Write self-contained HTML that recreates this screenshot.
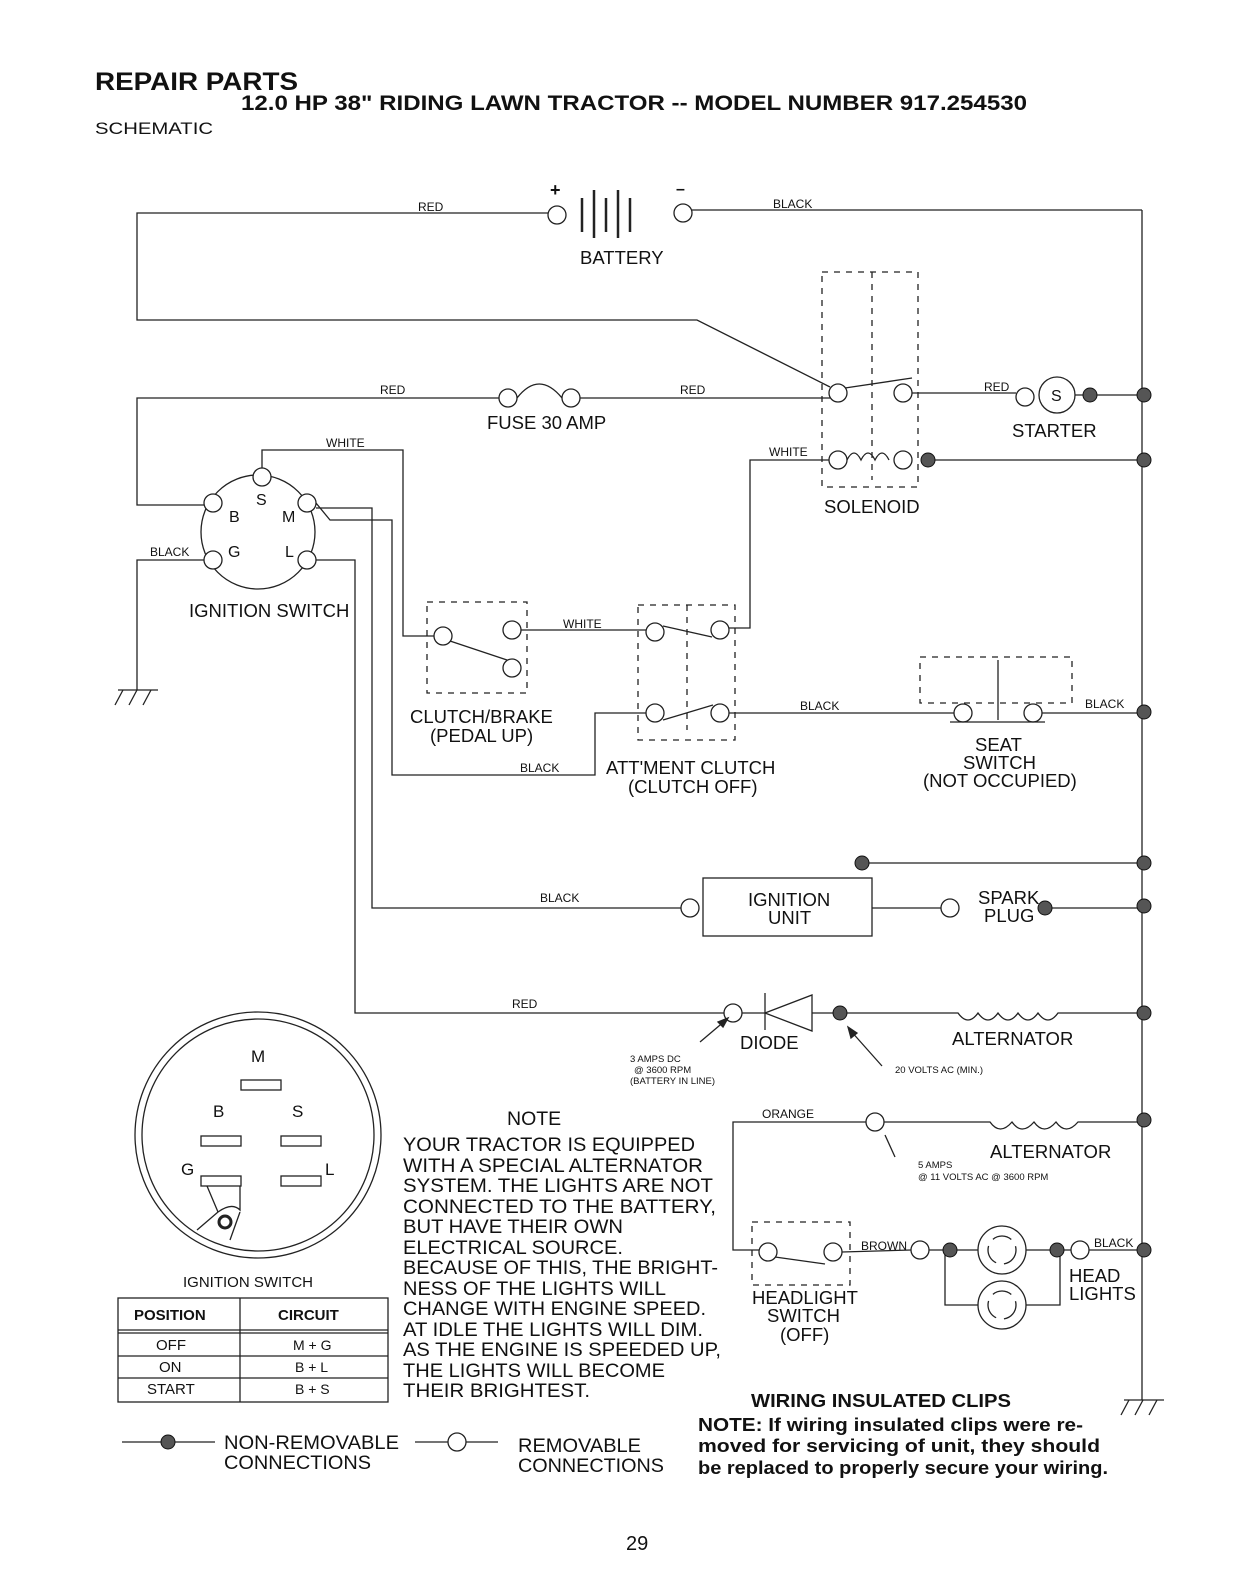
<!DOCTYPE html>
<html><head><meta charset="utf-8"><style>
html,body{margin:0;padding:0;background:#fff}
svg{display:block}
text{font-family:"Liberation Sans",sans-serif;fill:#111}
.l{font-size:18.5px}
.s{font-size:12px}
.t{font-size:9.5px}
</style></head><body>
<svg width="1244" height="1584" viewBox="0 0 1244 1584" xmlns="http://www.w3.org/2000/svg">
<g stroke="#222" stroke-width="1.3" fill="none">
<polyline points="548,213 137,213 137,320 697,320 830,387"/>
<line x1="692" y1="210" x2="1142" y2="210"/>
<line x1="1142" y1="210" x2="1142" y2="1400"/>
<circle cx="557" cy="215" r="9"/><circle cx="683" cy="213" r="9"/>
<line x1="582" y1="198" x2="582" y2="232" stroke-width="2.5"/>
<line x1="594" y1="190" x2="594" y2="238" stroke-width="2.5"/>
<line x1="606" y1="198" x2="606" y2="232" stroke-width="2.5"/>
<line x1="618" y1="190" x2="618" y2="238" stroke-width="2.5"/>
<line x1="630" y1="198" x2="630" y2="232" stroke-width="2.5"/>
<polyline points="499,398 137,398 137,505 205,505"/>
<circle cx="508" cy="398" r="9"/><circle cx="571" cy="398" r="9"/>
<path d="M517,398 Q539,370 562,398"/>
<line x1="580" y1="398" x2="830" y2="398"/>
<rect x="822" y="272" width="96" height="215" stroke-dasharray="6,6"/>
<line x1="872" y1="272" x2="872" y2="480" stroke-dasharray="6,6"/>
<circle cx="838" cy="393" r="9"/><circle cx="903" cy="393" r="9"/>
<line x1="845" y1="388" x2="912" y2="378"/>
<circle cx="838" cy="460" r="9"/><circle cx="903" cy="460" r="9"/>
<path d="M847,460 q7,-14 14,0 q7,-14 14,0 q7,-14 14,0"/>
<line x1="928" y1="460" x2="1142" y2="460"/>
<line x1="912" y1="393" x2="1016" y2="393"/>
<circle cx="1025" cy="397" r="9"/><circle cx="1057" cy="395" r="18"/>
<line x1="1075" y1="395" x2="1142" y2="395"/>
<polyline points="829,460 750,460 750,628 729,628"/>
<circle cx="258" cy="532" r="57"/>
<circle cx="262" cy="477" r="9" fill="#fff"/><circle cx="213" cy="503" r="9" fill="#fff"/>
<circle cx="307" cy="503" r="9" fill="#fff"/><circle cx="213" cy="560" r="9" fill="#fff"/>
<circle cx="307" cy="560" r="9" fill="#fff"/>
<polyline points="262,468 262,450 403,450 403,636 434,636"/>
<polyline points="204,560 137,560 137,690"/>
<polyline points="316,503 330,520 392,520 392,775 595,775 595,713 646,713"/>
<polyline points="316,508 372,508 372,908 681,908"/>
<polyline points="316,560 355,560 355,1013 724,1013"/>
<rect x="427" y="602" width="100" height="91" stroke-dasharray="6,6"/>
<circle cx="443" cy="636" r="9"/><circle cx="512" cy="630" r="9"/><circle cx="512" cy="668" r="9"/>
<line x1="450" y1="641" x2="507" y2="660"/>
<line x1="521" y1="630" x2="646" y2="630"/>
<rect x="638" y="605" width="97" height="135" stroke-dasharray="6,6"/>
<line x1="687" y1="605" x2="687" y2="730" stroke-dasharray="6,6"/>
<circle cx="655" cy="632" r="9"/><circle cx="720" cy="630" r="9"/>
<line x1="663" y1="626" x2="712" y2="637"/>
<circle cx="655" cy="713" r="9"/><circle cx="720" cy="713" r="9"/>
<line x1="663" y1="720" x2="713" y2="705"/>
<line x1="729" y1="713" x2="954" y2="713"/>
<rect x="920" y="657" width="152" height="46" stroke-dasharray="6,6"/>
<circle cx="963" cy="713" r="9"/><circle cx="1033" cy="713" r="9"/>
<line x1="998" y1="660" x2="998" y2="720"/>
<line x1="950" y1="722" x2="1045" y2="722"/>
<line x1="1042" y1="713" x2="1142" y2="713"/>
<rect x="703" y="878" width="169" height="58"/>
<circle cx="690" cy="908" r="9"/>
<line x1="872" y1="908" x2="941" y2="908"/><circle cx="950" cy="908" r="9"/>
<line x1="862" y1="863" x2="1142" y2="863"/>
<line x1="1045" y1="908" x2="1142" y2="908"/>
<circle cx="733" cy="1013" r="9"/>
<line x1="742" y1="1013" x2="765" y2="1013"/>
<line x1="765" y1="993" x2="765" y2="1030"/>
<polygon points="765,1013 812,995 812,1031"/>
<line x1="812" y1="1013" x2="840" y2="1013"/>
<path d="M840,1013 L958,1013 q10,14 20,0 q10,14 20,0 q10,14 20,0 q10,14 20,0 q10,14 20,0 L1142,1013"/>
<line x1="700" y1="1042" x2="726" y2="1020"/>
<polygon points="728,1018 718,1022 723,1027" fill="#222"/>
<line x1="882" y1="1066" x2="850" y2="1030"/>
<polygon points="848,1027 851,1038 857,1033" fill="#222"/>
<polyline points="866,1122 733,1122 733,1250 759,1250"/>
<circle cx="875" cy="1122" r="9"/>
<path d="M884,1122 L990,1122 q10,14 22,0 q10,14 22,0 q10,14 22,0 q10,14 22,0 L1142,1122"/>
<line x1="895" y1="1157" x2="885" y2="1135"/>
<rect x="752" y="1222" width="98" height="63" stroke-dasharray="6,6"/>
<circle cx="768" cy="1252" r="9"/><circle cx="833" cy="1252" r="9"/>
<line x1="775" y1="1257" x2="825" y2="1264"/>
<line x1="842" y1="1252" x2="911" y2="1250"/>
<circle cx="920" cy="1250" r="9"/>
<line x1="929" y1="1250" x2="978" y2="1250"/>
<circle cx="1002" cy="1250" r="24"/><circle cx="1002" cy="1305" r="24"/>
<circle cx="1002" cy="1250" r="14" stroke-dasharray="20,8"/>
<circle cx="1002" cy="1305" r="14" stroke-dasharray="20,8"/>
<polyline points="945,1250 945,1305 978,1305"/>
<polyline points="1026,1305 1060,1305 1060,1250"/>
<line x1="1026" y1="1250" x2="1071" y2="1250"/>
<circle cx="1080" cy="1250" r="9"/>
<line x1="1089" y1="1250" x2="1142" y2="1250"/>
<line x1="118" y1="690" x2="158" y2="690"/>
<line x1="123" y1="690" x2="115" y2="705"/><line x1="137" y1="690" x2="129" y2="705"/><line x1="151" y1="690" x2="143" y2="705"/>
<line x1="1124" y1="1400" x2="1164" y2="1400"/>
<line x1="1129" y1="1400" x2="1121" y2="1415"/><line x1="1143" y1="1400" x2="1135" y2="1415"/><line x1="1157" y1="1400" x2="1149" y2="1415"/>
<circle cx="258" cy="1135" r="123"/><circle cx="258" cy="1135" r="116"/>
<rect x="241" y="1080" width="40" height="10"/>
<rect x="201" y="1136" width="40" height="10"/><rect x="281" y="1136" width="40" height="10"/>
<rect x="201" y="1176" width="40" height="10"/><rect x="281" y="1176" width="40" height="10"/>
<path d="M197,1230 L218,1212 Q232,1202 240,1210 L240,1186 M240,1212 L230,1240"/>
<path d="M207,1186 L218,1212"/>
<circle cx="225" cy="1222" r="6" stroke-width="3"/>
<rect x="118" y="1298" width="270" height="104"/>
<line x1="118" y1="1330" x2="388" y2="1330"/><line x1="118" y1="1333" x2="388" y2="1333"/>
<line x1="118" y1="1356" x2="388" y2="1356"/><line x1="118" y1="1378" x2="388" y2="1378"/>
<line x1="240" y1="1298" x2="240" y2="1402"/>
<line x1="122" y1="1442" x2="215" y2="1442"/>
<line x1="415" y1="1442" x2="498" y2="1442"/>
<circle cx="457" cy="1442" r="9" fill="#fff"/>
</g>
<g fill="#555" stroke="#111" stroke-width="1">
<circle cx="1090" cy="395" r="7"/><circle cx="1144" cy="395" r="7"/>
<circle cx="928" cy="460" r="7"/><circle cx="1144" cy="460" r="7"/>
<circle cx="1144" cy="712" r="7"/><circle cx="862" cy="863" r="7"/>
<circle cx="1144" cy="863" r="7"/><circle cx="1045" cy="908" r="7"/>
<circle cx="1144" cy="906" r="7"/><circle cx="840" cy="1013" r="7"/>
<circle cx="1144" cy="1013" r="7"/><circle cx="1144" cy="1120" r="7"/>
<circle cx="950" cy="1250" r="7"/><circle cx="1057" cy="1250" r="7"/>
<circle cx="1144" cy="1250" r="7"/><circle cx="168" cy="1442" r="7"/>
</g>
<text x="95" y="90" font-size="25" font-weight="bold" textLength="203" lengthAdjust="spacingAndGlyphs">REPAIR PARTS</text>
<text x="241" y="110" font-size="21" font-weight="bold" textLength="786" lengthAdjust="spacingAndGlyphs">12.0 HP 38" RIDING LAWN TRACTOR -- MODEL NUMBER 917.254530</text>
<text x="95" y="134" font-size="17" textLength="118" lengthAdjust="spacingAndGlyphs">SCHEMATIC</text>
<text x="550" y="196" font-size="18" font-weight="bold">+</text>
<text x="676" y="194" font-size="16" font-weight="bold">–</text>
<text class="s" x="418" y="211">RED</text>
<text class="s" x="773" y="208">BLACK</text>
<text class="l" x="580" y="264">BATTERY</text>
<text class="s" x="380" y="394">RED</text>
<text class="s" x="680" y="394">RED</text>
<text class="l" x="487" y="429">FUSE 30 AMP</text>
<text class="s" x="984" y="391">RED</text>
<text x="1051" y="401" font-size="16">S</text>
<text class="l" x="1012" y="437">STARTER</text>
<text class="s" x="769" y="456">WHITE</text>
<text class="l" x="824" y="513">SOLENOID</text>
<text class="s" x="326" y="447">WHITE</text>
<text x="256" y="505" font-size="16">S</text>
<text x="229" y="522" font-size="16">B</text>
<text x="282" y="522" font-size="16">M</text>
<text x="228" y="557" font-size="16">G</text>
<text x="285" y="557" font-size="16">L</text>
<text class="s" x="150" y="556">BLACK</text>
<text class="l" x="189" y="617">IGNITION SWITCH</text>
<text class="s" x="563" y="628">WHITE</text>
<text class="l" x="410" y="723">CLUTCH/BRAKE</text>
<text class="l" x="430" y="742">(PEDAL UP)</text>
<text class="s" x="800" y="710">BLACK</text>
<text class="s" x="1085" y="708">BLACK</text>
<text class="l" x="975" y="751">SEAT</text>
<text class="l" x="963" y="769">SWITCH</text>
<text class="l" x="923" y="787">(NOT OCCUPIED)</text>
<text class="s" x="520" y="772">BLACK</text>
<text class="l" x="606" y="774">ATT'MENT CLUTCH</text>
<text class="l" x="628" y="793">(CLUTCH OFF)</text>
<text class="s" x="540" y="902">BLACK</text>
<text class="l" x="748" y="906">IGNITION</text>
<text class="l" x="768" y="924">UNIT</text>
<text class="l" x="978" y="904">SPARK</text>
<text class="l" x="984" y="922">PLUG</text>
<text class="s" x="512" y="1008">RED</text>
<text class="l" x="740" y="1049">DIODE</text>
<text class="l" x="952" y="1045">ALTERNATOR</text>
<text class="t" x="630" y="1062">3 AMPS DC</text>
<text class="t" x="634" y="1073">@ 3600 RPM</text>
<text class="t" x="630" y="1084">(BATTERY IN LINE)</text>
<text class="t" x="895" y="1073">20 VOLTS AC (MIN.)</text>
<text class="s" x="762" y="1118">ORANGE</text>
<text class="l" x="990" y="1158">ALTERNATOR</text>
<text class="t" x="918" y="1168">5 AMPS</text>
<text class="t" x="918" y="1180">@ 11 VOLTS AC @ 3600 RPM</text>
<text class="s" x="861" y="1250">BROWN</text>
<text class="s" x="1094" y="1247">BLACK</text>
<text class="l" x="1069" y="1282">HEAD</text>
<text class="l" x="1069" y="1300">LIGHTS</text>
<text class="l" x="752" y="1304">HEADLIGHT</text>
<text class="l" x="767" y="1322">SWITCH</text>
<text class="l" x="780" y="1341">(OFF)</text>
<text x="251" y="1062" font-size="17">M</text>
<text x="213" y="1117" font-size="17">B</text>
<text x="292" y="1117" font-size="17">S</text>
<text x="181" y="1175" font-size="17">G</text>
<text x="325" y="1175" font-size="17">L</text>
<text x="183" y="1287" font-size="15">IGNITION SWITCH</text>
<text x="134" y="1320" font-size="15" font-weight="bold">POSITION</text>
<text x="278" y="1320" font-size="15" font-weight="bold">CIRCUIT</text>
<text x="156" y="1350" font-size="15">OFF</text>
<text x="293" y="1350" font-size="14">M + G</text>
<text x="159" y="1372" font-size="15">ON</text>
<text x="295" y="1372" font-size="14">B + L</text>
<text x="147" y="1394" font-size="15">START</text>
<text x="295" y="1394" font-size="14">B + S</text>
<g font-size="19.5" lengthAdjust="spacingAndGlyphs">
<text x="507" y="1125">NOTE</text>
<text x="403" y="1151" textLength="292" lengthAdjust="spacingAndGlyphs">YOUR TRACTOR IS EQUIPPED</text>
<text x="403" y="1172" textLength="300" lengthAdjust="spacingAndGlyphs">WITH A SPECIAL ALTERNATOR</text>
<text x="403" y="1192" textLength="310" lengthAdjust="spacingAndGlyphs">SYSTEM.  THE LIGHTS ARE NOT</text>
<text x="403" y="1213" textLength="313" lengthAdjust="spacingAndGlyphs">CONNECTED TO  THE BATTERY,</text>
<text x="403" y="1233" textLength="220" lengthAdjust="spacingAndGlyphs">BUT HAVE THEIR OWN</text>
<text x="403" y="1254" textLength="220" lengthAdjust="spacingAndGlyphs">ELECTRICAL SOURCE.</text>
<text x="403" y="1274" textLength="315" lengthAdjust="spacingAndGlyphs">BECAUSE OF THIS, THE BRIGHT-</text>
<text x="403" y="1295" textLength="263" lengthAdjust="spacingAndGlyphs">NESS OF THE LIGHTS WILL</text>
<text x="403" y="1315" textLength="303" lengthAdjust="spacingAndGlyphs">CHANGE WITH ENGINE SPEED.</text>
<text x="403" y="1336" textLength="300" lengthAdjust="spacingAndGlyphs">AT IDLE THE LIGHTS WILL DIM.</text>
<text x="403" y="1356" textLength="318" lengthAdjust="spacingAndGlyphs">AS THE ENGINE IS SPEEDED UP,</text>
<text x="403" y="1377" textLength="262" lengthAdjust="spacingAndGlyphs">THE LIGHTS WILL BECOME</text>
<text x="403" y="1397" textLength="187" lengthAdjust="spacingAndGlyphs">THEIR BRIGHTEST.</text>
</g>
<text x="751" y="1407" font-size="18" font-weight="bold" textLength="260" lengthAdjust="spacingAndGlyphs">WIRING INSULATED CLIPS</text>
<text x="698" y="1431" font-size="18" font-weight="bold" textLength="385" lengthAdjust="spacingAndGlyphs">NOTE: If wiring insulated clips  were  re-</text>
<text x="698" y="1452" font-size="18" font-weight="bold" textLength="402" lengthAdjust="spacingAndGlyphs">moved  for servicing  of  unit,  they should</text>
<text x="698" y="1474" font-size="18" font-weight="bold" textLength="410" lengthAdjust="spacingAndGlyphs">be replaced to properly secure your wiring.</text>
<text x="224" y="1449" font-size="19" textLength="175" lengthAdjust="spacingAndGlyphs">NON-REMOVABLE</text>
<text x="224" y="1469" font-size="19" textLength="147" lengthAdjust="spacingAndGlyphs">CONNECTIONS</text>
<text x="518" y="1452" font-size="19" textLength="123" lengthAdjust="spacingAndGlyphs">REMOVABLE</text>
<text x="518" y="1472" font-size="19" textLength="146" lengthAdjust="spacingAndGlyphs">CONNECTIONS</text>
<text x="626" y="1550" font-size="20">29</text>
</svg>
</body></html>
